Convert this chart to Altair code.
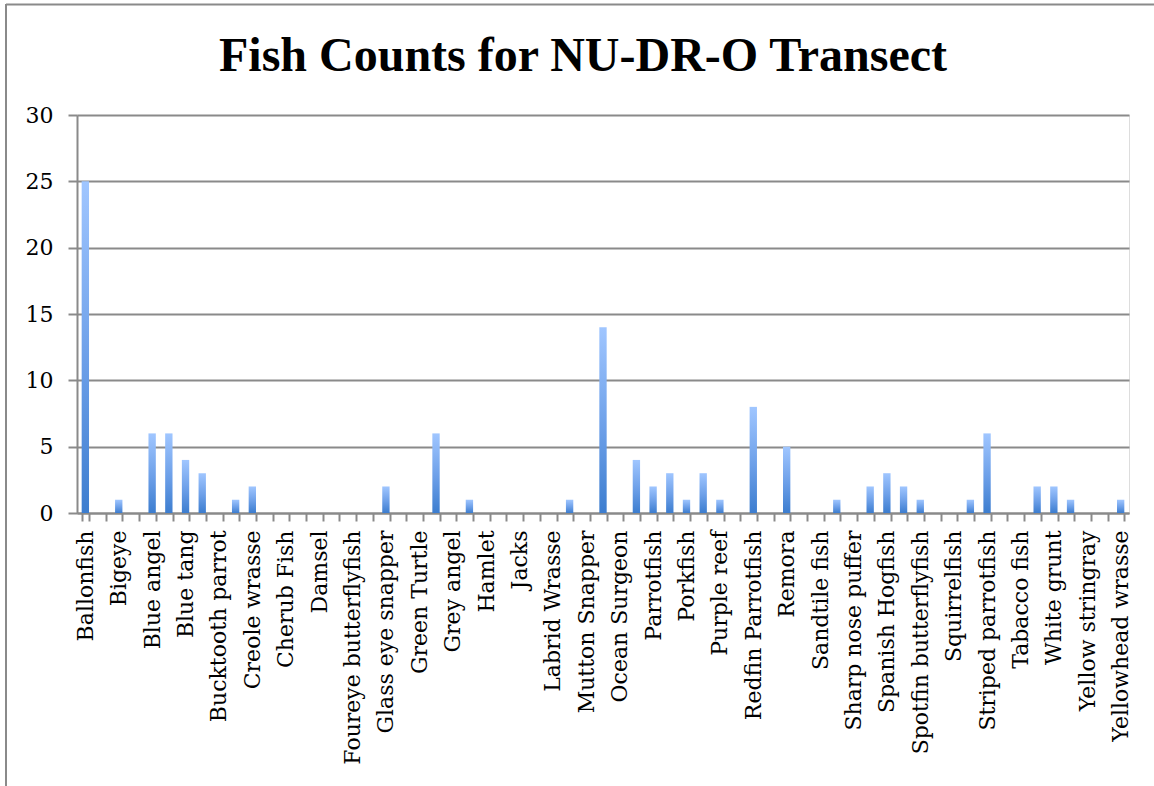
import json
import altair as alt
import pandas as pd

# Every second species is named on the axis; the slots in between carry their own counts.
labels = [
    "Ballonfish", "Bigeye", "Blue angel", "Blue tang", "Bucktooth parrot",
    "Creole wrasse", "Cherub Fish", "Damsel", "Foureye butterflyfish",
    "Glass eye snapper", "Green Turtle", "Grey angel", "Hamlet", "Jacks",
    "Labrid Wrasse", "Mutton Snapper", "Ocean Surgeon", "Parrotfish", "Porkfish",
    "Purple reef", "Redfin Parrotfish", "Remora", "Sandtile fish",
    "Sharp nose puffer", "Spanish Hogfish", "Spotfin butterflyfish",
    "Squirrelfish", "Striped parrotfish", "Tabacco fish", "White grunt",
    "Yellow stringray", "Yellowhead wrasse",
]

counts = [
    25, 0, 1, 0, 6, 6, 4, 3, 0, 1,
    2, 0, 0, 0, 0, 0, 0, 0, 2, 0,
    0, 6, 0, 1, 0, 0, 0, 0, 0, 1,
    0, 14, 0, 4, 2, 3, 1, 3, 1, 0,
    8, 0, 5, 0, 0, 1, 0, 2, 3, 2,
    1, 0, 0, 1, 6, 0, 0, 2, 2, 1,
    0, 0, 1,
]

y_ticks = [0, 5, 10, 15, 20, 25, 30]

df = pd.DataFrame({"slot": list(range(len(counts))), "count": counts})

GRID = "#8a8a8a"
label_expr = (
    "datum.value % 2 == 0 ? " + json.dumps(labels) + "[datum.value / 2] : ''"
)

bar_fill = alt.Gradient(
    gradient="linear",
    stops=[
        alt.GradientStop(color="#a0c6ff", offset=0),
        alt.GradientStop(color="#6c9fe8", offset=0.55),
        alt.GradientStop(color="#3c7dcf", offset=1),
    ],
    x1=0, x2=0, y1=0, y2=1,
)

bars = alt.Chart(df).mark_bar(color=bar_fill).encode(
    x=alt.X(
        "slot:O",
        title=None,
        scale=alt.Scale(paddingInner=0.56, paddingOuter=0.28),
        axis=alt.Axis(
            labelExpr=label_expr,
            labelAngle=270,
            labelAlign="right",
            labelBaseline="middle",
            labelFont="DejaVu Serif",
            labelFontSize=22,
            labelColor="#000000",
            labelPadding=9,
            labelOverlap=False,
            labelLimit=400,
            tickBand="extent",
            tickSize=8,
            tickWidth=2,
            tickColor=GRID,
            domainColor=GRID,
            domainWidth=2,
            grid=False,
        ),
    ),
    y=alt.Y(
        "count:Q",
        title=None,
        scale=alt.Scale(domain=[0, 30], nice=False),
        axis=alt.Axis(
            values=y_ticks,
            labelFont="DejaVu Serif",
            labelFontSize=22,
            labelColor="#000000",
            labelPadding=15,
            tickSize=9,
            tickWidth=2,
            tickColor=GRID,
            domainColor=GRID,
            domainWidth=2,
            grid=True,
            gridColor=GRID,
            gridWidth=2,
        ),
    ),
)

# Frame line along the top and left edges of the chart area
frame_src = alt.Chart(pd.DataFrame({"k": [0]}))
top_edge = frame_src.mark_rule(color=GRID, strokeWidth=2).encode(
    x=alt.value(-71), x2=alt.value(1090), y=alt.value(-110.5)
)
left_edge = frame_src.mark_rule(color=GRID, strokeWidth=2).encode(
    x=alt.value(-71), y=alt.value(-111), y2=alt.value(690)
)

chart = (
    alt.layer(bars, top_edge, left_edge)
    .properties(
        width=1052,
        height=398,
        autosize=alt.AutoSizeParams(type="none"),
        padding={"left": 77, "top": 115, "right": 25, "bottom": 273},
        title=alt.TitleParams(
            "Fish Counts for NU-DR-O Transect",
            font="Liberation Serif",
            fontSize=48,
            fontWeight="bold",
            color="#000000",
            anchor="middle",
            baseline="alphabetic",
            dx=-20,
            offset=-116,
        ),
    )
    .configure_view(stroke=None)
    .configure(background="#ffffff")
)

chart.save("out.html", embed_options={"renderer": "svg", "actions": False})
